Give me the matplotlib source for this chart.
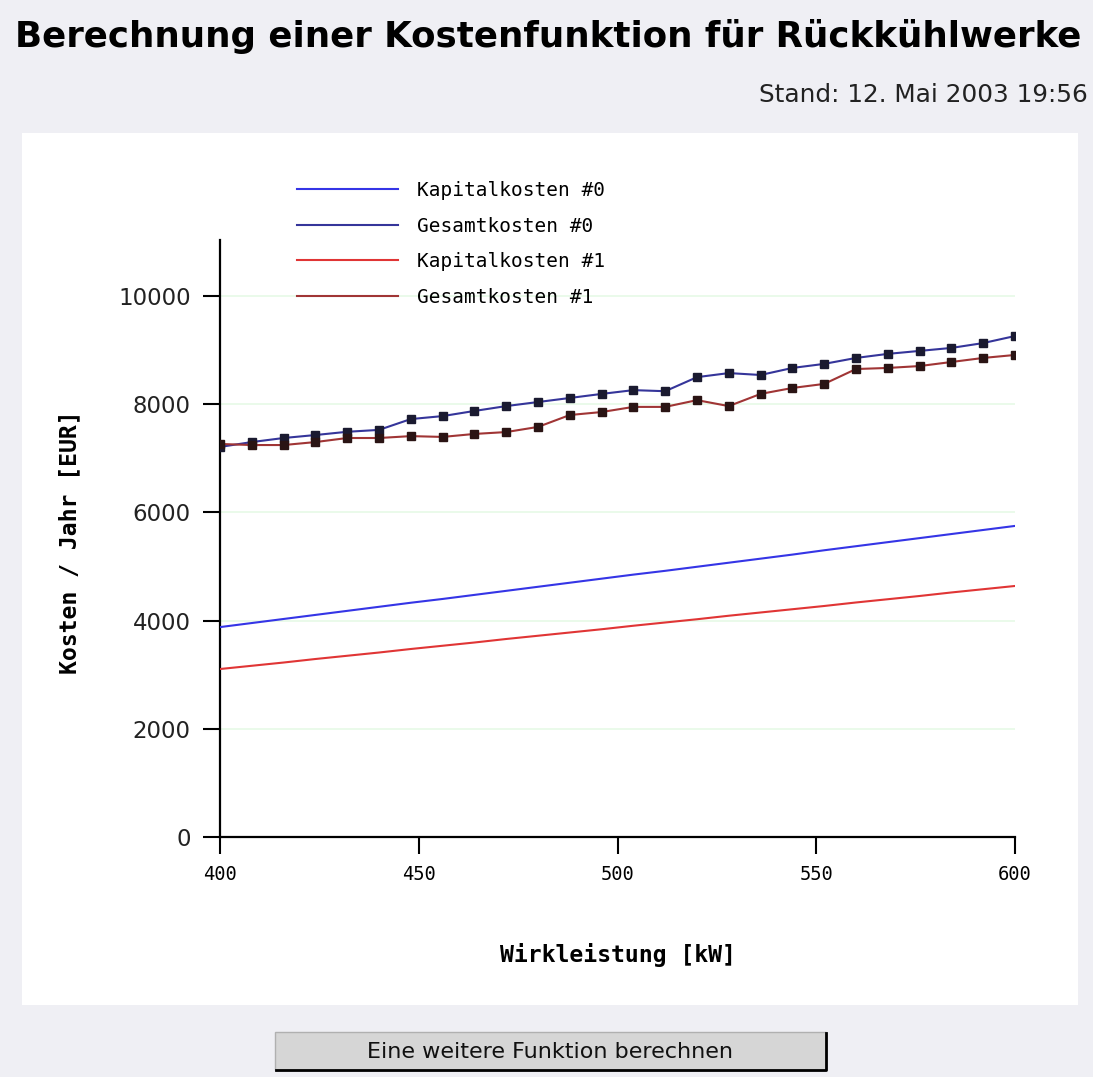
import matplotlib
matplotlib.use("Agg")
import matplotlib.pyplot as plt
from matplotlib.patches import Rectangle
from matplotlib.lines import Line2D

# ---------------- data ----------------
leistung = [400, 408, 416, 424, 432, 440, 448, 456, 464, 472, 480, 488, 496,
            504, 512, 520, 528, 536, 544, 552, 560, 568, 576, 584, 592, 600]

kapital0 = [3880, 3955, 4030, 4105, 4180, 4255, 4330, 4400, 4475, 4550, 4625,
            4700, 4775, 4850, 4920, 4995, 5070, 5145, 5220, 5300, 5375, 5450,
            5525, 5600, 5675, 5750]
gesamt0 = [7210, 7300, 7375, 7430, 7490, 7525, 7725, 7780, 7875, 7965, 8040,
           8115, 8190, 8260, 8240, 8500, 8575, 8540, 8670, 8745, 8855, 8930,
           8985, 9040, 9130, 9260]
kapital1 = [3105, 3165, 3225, 3290, 3350, 3410, 3475, 3535, 3595, 3660, 3720,
            3780, 3840, 3905, 3965, 4025, 4090, 4150, 4210, 4270, 4335, 4395,
            4455, 4520, 4580, 4640]
gesamt1 = [7265, 7245, 7245, 7300, 7375, 7375, 7410, 7395, 7450, 7485, 7580,
           7800, 7855, 7950, 7950, 8075, 7965, 8190, 8300, 8375, 8650, 8670,
           8705, 8780, 8855, 8910]

series_labels = ["Kapitalkosten #0", "Gesamtkosten #0",
                 "Kapitalkosten #1", "Gesamtkosten #1"]
x_ticks = [400, 450, 500, 550, 600]
y_ticks = [0, 2000, 4000, 6000, 8000, 10000]

title = "Berechnung einer Kostenfunktion für Rückkühlwerke"
stand = "Stand: 12. Mai 2003 19:56"
xlabel = "Wirkleistung [kW]"
ylabel = "Kosten / Jahr [EUR]"
button = "Eine weitere Funktion berechnen"

# ---------------- figure ----------------
W, H = 1093, 1077
fig = plt.figure(figsize=(W / 100, H / 100), dpi=100)
fig.patch.set_facecolor("#efeff4")

def fx(px):
    return px / W

def fy(py):
    return 1 - py / H

# white panel
fig.patches.append(Rectangle((fx(22), fy(1005)), fx(1078) - fx(22), fy(133) - fy(1005),
                             transform=fig.transFigure, facecolor="white",
                             edgecolor="none", zorder=0))

ax = fig.add_axes([fx(220), fy(837), fx(1015) - fx(220), fy(240) - fy(837)])
ax.set_facecolor("none")
ax.set_zorder(2)

c_k0 = "#3535e6"
c_g0 = "#35359a"
c_k1 = "#e03535"
c_g1 = "#a03535"

ax.plot(leistung, kapital0, color=c_k0, lw=1.5, zorder=3)
ax.plot(leistung, gesamt0, color=c_g0, lw=1.5, zorder=3,
        marker="s", markersize=6.3, markerfacecolor="#1a1a30", markeredgecolor="#1a1a30")
ax.plot(leistung, kapital1, color=c_k1, lw=1.5, zorder=3)
ax.plot(leistung, gesamt1, color=c_g1, lw=1.5, zorder=3,
        marker="s", markersize=6.3, markerfacecolor="#2a1414", markeredgecolor="#2a1414")

ax.set_xlim(400, 600)
ax.set_ylim(0, 11035)
ax.set_xticks(x_ticks)
ax.set_yticks(y_ticks)
ax.set_xticklabels([str(v) for v in x_ticks], fontfamily="DejaVu Sans Mono", fontsize=13.5)
ax.set_yticklabels([str(v) for v in y_ticks], fontfamily="DejaVu Sans", fontsize=16.5,
                   color="#222222")
ax.tick_params(axis="both", length=12, width=1.5, color="black", direction="out")
ax.tick_params(axis="y", pad=9)
ax.tick_params(axis="x", pad=8)

for s in ["top", "right"]:
    ax.spines[s].set_visible(False)
for s in ["left", "bottom"]:
    ax.spines[s].set_linewidth(1.6)
    ax.spines[s].set_color("black")

ax.grid(axis="y", color="#e6f9e6", lw=1.2)
ax.set_axisbelow(True)

# legend
handles = [Line2D([], [], color=c, lw=1.5) for c in (c_k0, c_g0, c_k1, c_g1)]
fig.legend(handles, series_labels, loc="upper left",
           bbox_to_anchor=(fx(297), fy(181)), bbox_transform=fig.transFigure,
           frameon=False, handlelength=5.2, handletextpad=0.95, labelspacing=0.85,
           borderpad=0, borderaxespad=0,
           prop={"family": "DejaVu Sans Mono", "size": 14})

# axis labels
fig.text(fx(618), fy(955), xlabel, ha="center", va="center",
         fontfamily="DejaVu Sans Mono", fontweight="bold", fontsize=16.7)
fig.text(fx(70), fy(542), ylabel, ha="center", va="center", rotation=90,
         fontfamily="DejaVu Sans Mono", fontweight="bold", fontsize=16.7)

# title and date
fig.text(fx(15), fy(36), title, ha="left", va="center",
         fontfamily="DejaVu Sans", fontweight="bold", fontsize=25.7)
fig.text(fx(1088), fy(95), stand, ha="right", va="center",
         fontfamily="DejaVu Sans", fontsize=17.8, color="#222222")

# button
fig.patches.append(Rectangle((fx(275), fy(1070)), fx(826) - fx(275), fy(1032) - fy(1070),
                             transform=fig.transFigure, facecolor="#d6d6d6",
                             edgecolor="#b0b0b0", lw=1, zorder=1))
fig.lines.append(Line2D([fx(276), fx(826), fx(826)], [fy(1070), fy(1070), fy(1033)],
                        transform=fig.transFigure, color="black", lw=2, zorder=2))
fig.text(fx(550), fy(1052), button, ha="center", va="center",
         fontfamily="DejaVu Sans", fontsize=16, color="#111111")

fig.savefig("out.png", dpi=100, facecolor=fig.get_facecolor())
